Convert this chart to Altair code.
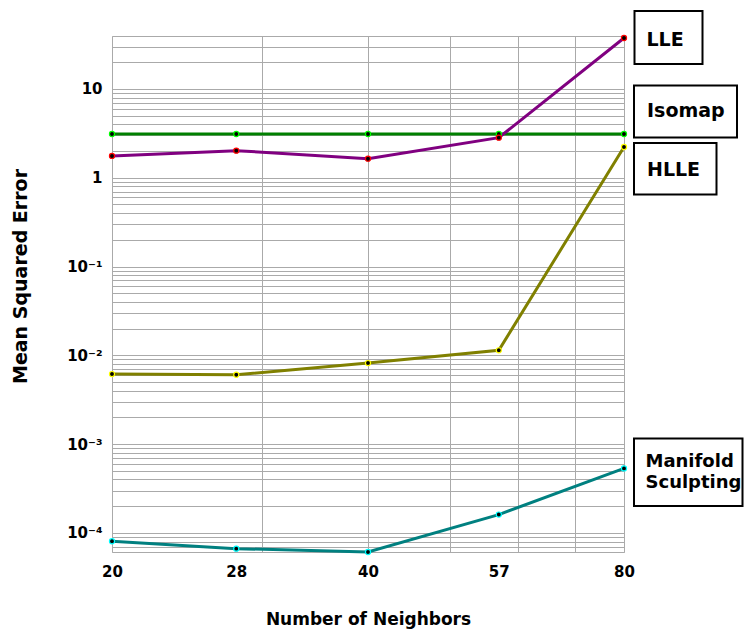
import altair as alt
import pandas as pd

# ---- data ----
neighbors = [20, 28, 40, 57, 80]
isomap = [3.11, 3.11, 3.11, 3.11, 3.11]
lle = [1.76, 2.02, 1.64, 2.83, 37.5]
hlle = [0.00616, 0.00605, 0.00819, 0.0114, 2.22]
manifold = [8.06e-5, 6.65e-5, 6.1e-5, 1.61e-4, 5.33e-4]

series_names = ["Isomap", "LLE", "HLLE", "Manifold Sculpting"]
series_values = [isomap, lle, hlle, manifold]
line_colors = ["#008000", "#800080", "#808000", "#008080"]
marker_colors = ["#00ff00", "#ff0000", "#ffff00", "#00ffff"]

x_label_values = [20, 28, 40, 57, 80]
x_grid_values = [20, 28, 30, 40, 50, 57, 60, 70, 80]
x_domain = [20, 80]
y_domain = [6.1e-5, 39.5]

# label boxes (annotation layout, pixels relative to plot area)
box_names = ["LLE", "Isomap", "HLLE", "Manifold Sculpting"]
box_left = [522.5, 522, 522, 522]
box_right = [590.5, 625, 604.5, 630.5]
box_top = [-25, 49.5, 107, 402.5]
box_bottom = [28, 101.5, 158.5, 470]

text_lines = ["LLE", "Isomap", "HLLE", "Manifold", "Sculpting"]
text_x = [534.5, 535, 535, 533.5, 533.5]
text_y = [9.7, 81.3, 139.7, 430.7, 451.5]
text_size = [19, 19, 19, 18, 18]

# ---- tables ----
rows = []
for name, vals in zip(series_names, series_values):
    for n, v in zip(neighbors, vals):
        rows.append({"series": name, "neighbors": n, "mse": v})
df = pd.DataFrame(rows)

boxes = pd.DataFrame({"name": box_names, "bx": box_left, "bx2": box_right,
                      "by": box_top, "by2": box_bottom})
texts = pd.DataFrame({"t": text_lines, "tx": text_x, "ty": text_y, "fs": text_size})

y_grid_values = []
for e in range(-5, 2):
    for k in range(1, 10):
        v = k * 10.0 ** e
        if y_domain[0] <= v <= y_domain[1]:
            y_grid_values.append(v)

FONT = "DejaVu Sans"

y_label_expr = (
    "abs(log(datum.value)/LN10 - round(log(datum.value)/LN10)) > 0.001 ? '' : "
    "(datum.value >= 1 ? format(datum.value, 'd') : "
    "'10' + ['', '⁻¹', '⁻²', '⁻³', '⁻⁴', '⁻⁵'][-round(log(datum.value)/LN10)])"
)
x_label_expr = "indexof([20, 28, 40, 57, 80], datum.value) >= 0 ? datum.label : ''"

x_scale = alt.Scale(type="log", domain=x_domain, nice=False)
y_scale = alt.Scale(type="log", domain=y_domain, nice=False)

x_axis = alt.Axis(
    title="Number of Neighbors",
    values=x_grid_values,
    labelExpr=x_label_expr,
    labelFlush=False,
    labelOverlap=False,
    grid=True,
    gridOpacity={"condition": {"test": "datum.value == 28 || datum.value == 57", "value": 0}, "value": 1},
    labelPadding=24,
    labelBaseline="alphabetic",
    labelFontSize=15,
    titleFontSize=17,
    titleX=256,
    titleY=72,
    titleAlign="center",
    titleBaseline="alphabetic",
)
y_axis = alt.Axis(
    title="Mean Squared Error",
    values=y_grid_values,
    labelExpr=y_label_expr,
    labelOverlap=False,
    labelBound=False,
    labelFlush=False,
    grid=True,
    labelPadding=10,
    labelFontSize=15,
    titleFontSize=19,
    titleX=-92,
    titleY=240,
    titleAngle=270,
    titleAlign="center",
    titleBaseline="middle",
)

color_scale = alt.Scale(domain=series_names, range=line_colors)
marker_scale = alt.Scale(domain=series_names, range=marker_colors)

lines = alt.Chart(df).mark_line(strokeWidth=3).encode(
    x=alt.X("neighbors:Q", scale=x_scale, axis=x_axis),
    y=alt.Y("mse:Q", scale=y_scale, axis=y_axis),
    color=alt.Color("series:N", scale=color_scale, legend=None),
    detail="series:N",
)
points = alt.Chart(df).mark_circle(size=26, fill="black", opacity=1, strokeWidth=1.2).encode(
    x=alt.X("neighbors:Q", scale=x_scale, axis=None),
    y=alt.Y("mse:Q", scale=y_scale, axis=None),
    stroke=alt.Stroke("series:N", scale=marker_scale, legend=None),
)

rects = alt.Chart(boxes).mark_rect(fill="white", stroke="black", strokeWidth=2).encode(
    x=alt.X("bx:Q", scale=None, axis=None), x2="bx2:Q",
    y=alt.Y("by:Q", scale=None, axis=None), y2="by2:Q",
)
labels = alt.Chart(texts).mark_text(
    align="left", baseline="alphabetic", font=FONT, fontWeight="bold", color="black"
).encode(
    x=alt.X("tx:Q", scale=None, axis=None),
    y=alt.Y("ty:Q", scale=None, axis=None),
    size=alt.Size("fs:Q", scale=None, legend=None),
    text="t:N",
)

chart = alt.layer(lines, points, rects, labels).resolve_scale(
    x="independent", y="independent"
).properties(
    width=512, height=516,
    autosize=alt.AutoSizeParams(type="none"),
    padding={"left": 104, "top": 28, "right": 122, "bottom": 77},
).configure_axis(
    labelFont=FONT, labelFontWeight="bold", labelColor="black",
    titleFont=FONT, titleFontWeight="bold", titleColor="black",
    domain=False, ticks=False, tickSize=0,
    gridColor="#aaaaaa", gridWidth=1,
).configure_view(stroke="#aaaaaa", strokeWidth=1)

chart.save("out.html", embed_options={"renderer": "svg", "actions": False})
